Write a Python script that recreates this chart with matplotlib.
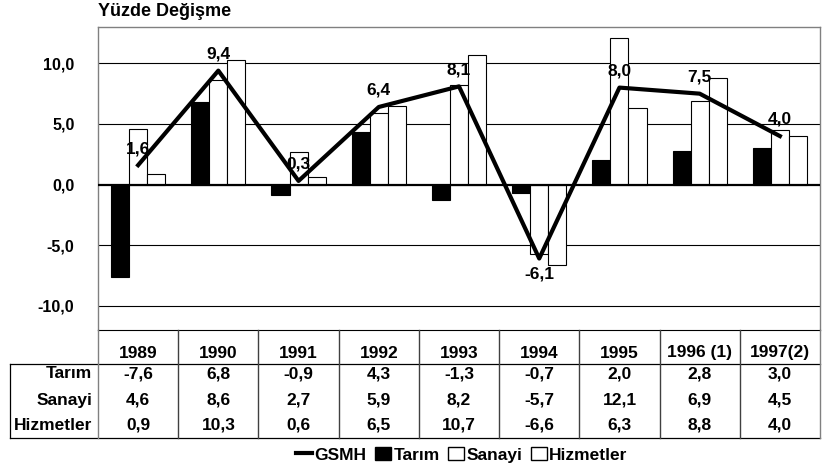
import matplotlib
matplotlib.use("Agg")
import matplotlib.pyplot as plt
from matplotlib.lines import Line2D
from matplotlib.patches import Patch
import numpy as np

plt.rcParams['font.family'] = ['Liberation Sans', 'DejaVu Sans']
plt.rcParams['font.weight'] = 'bold'

years = ["1989", "1990", "1991", "1992", "1993", "1994", "1995", "1996 (1)", "1997(2)"]
gsmh = [1.6, 9.4, 0.3, 6.4, 8.1, -6.1, 8.0, 7.5, 4.0]
tarim = [-7.6, 6.8, -0.9, 4.3, -1.3, -0.7, 2.0, 2.8, 3.0]
sanayi = [4.6, 8.6, 2.7, 5.9, 8.2, -5.7, 12.1, 6.9, 4.5]
hizmetler = [0.9, 10.3, 0.6, 6.5, 10.7, -6.6, 6.3, 8.8, 4.0]
yticks = [-10, -5, 0, 5, 10]

def fmt(v):
    return ("%.1f" % v).replace(".", ",")

W, H = 836, 472
fig = plt.figure(figsize=(W / 100, H / 100), dpi=100)
FS = 12.5

# main plot area (pixel box converted to figure fractions)
L, R, T, B = 98, 820, 27, 330
ax = fig.add_axes([L / W, 1 - B / H, (R - L) / W, (B - T) / H])
x = np.arange(len(years))
bw = 0.225

ax.bar(x - bw, tarim, bw, color='black', edgecolor='black', lw=0.8, zorder=3)
ax.bar(x, sanayi, bw, color='white', edgecolor='black', lw=0.8, zorder=3)
ax.bar(x + bw, hizmetler, bw, color='white', edgecolor='black', lw=0.8, zorder=3)
ax.plot(x, gsmh, color='black', lw=3, zorder=4)

for xi, v in zip(x, gsmh):
    off = -11 if v < 0 else 12
    ax.annotate(fmt(v), (xi, v), xytext=(0, off), textcoords='offset points',
                ha='center', va='center', fontsize=FS, fontweight='bold', zorder=5)

ax.set_xlim(-0.5, len(years) - 0.5)
ax.set_ylim(-12, 13)
ax.set_yticks(yticks)
ax.set_yticklabels([fmt(v) for v in yticks], fontsize=11.5, fontweight='bold')
ax.tick_params(axis='y', length=0, pad=17)
ax.set_xticks([])
for v in yticks:
    ax.axhline(v, color='black', lw=1.6 if v == 0 else 0.8, zorder=2 if v else 4)
for s in ax.spines.values():
    s.set_color('#808080')
    s.set_linewidth(1)
ax.spines['bottom'].set_color('black')
ax.spines['bottom'].set_linewidth(0.8)

fig.text(L / W, 1 - 12 / H, "Yüzde Değişme", fontsize=13, fontweight='bold',
         ha='left', va='center')

# table below the plot
TB = 438
tab = fig.add_axes([L / W, 1 - TB / H, (R - L) / W, (TB - B) / H])
tab.set_xlim(-0.5, len(years) - 0.5)
tab.set_ylim(TB - B, 0)
tab.axis('off')
left_x = -0.5 - (L - 10) / ((R - L) / len(years))
kw = dict(color='black', lw=0.9, clip_on=False)
tab.plot([left_x, len(years) - 0.5], [34, 34], **kw)
tab.plot([left_x, len(years) - 0.5], [107.5, 107.5], **kw)
tab.plot([left_x, left_x], [34, 107.5], **kw)
for k in range(len(years) + 1):
    c = '#808080' if k in (0, len(years)) else '#404040'
    tab.plot([k - 0.5, k - 0.5], [0, 107.5], color=c, lw=1, clip_on=False)

for xi, yr in zip(x, years):
    tab.text(xi, 23, yr, ha='center', va='center', fontsize=FS, fontweight='bold')

rows = [("Tarım", tarim, 44), ("Sanayi", sanayi, 70), ("Hizmetler", hizmetler, 95)]
for name, vals, yy in rows:
    tab.text(-0.5 - 0.07, yy, name, ha='right', va='center', fontsize=FS,
             fontweight='bold', clip_on=False)
    for xi, v in zip(x, vals):
        tab.text(xi, yy, fmt(v), ha='center', va='center', fontsize=FS, fontweight='bold')

handles = [Line2D([], [], color='black', lw=3),
           Patch(facecolor='black', edgecolor='black'),
           Patch(facecolor='white', edgecolor='black'),
           Patch(facecolor='white', edgecolor='black')]
labels = ["GSMH", "Tarım", "Sanayi", "Hizmetler"]
fig.legend(handles, labels, loc='center', bbox_to_anchor=(462 / W, 1 - 455 / H), ncol=4,
           frameon=False, prop={'size': FS, 'weight': 'bold'}, handlelength=0.9,
           handleheight=0.7, handletextpad=0.15, columnspacing=0.5, borderpad=0)

fig.savefig("out.png", dpi=100)
